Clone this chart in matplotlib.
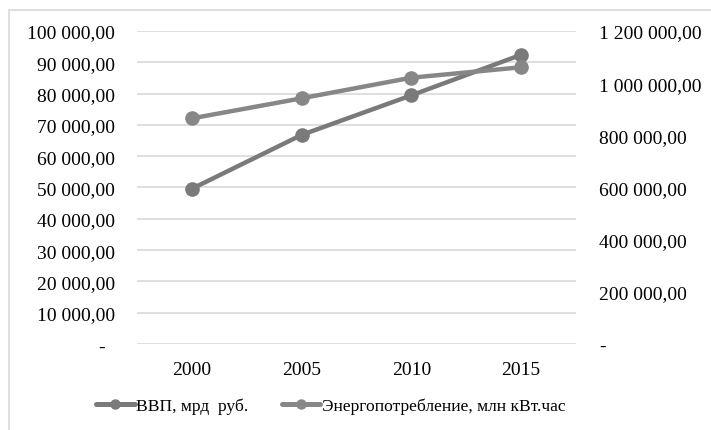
import matplotlib

matplotlib.use("Agg")
import matplotlib.pyplot as plt
from matplotlib.patches import Rectangle
from matplotlib.ticker import FuncFormatter, MultipleLocator

years = ["2000", "2005", "2010", "2015"]
gdp = [49600, 66800, 79450, 92400]              # ВВП, мрд руб. (left axis)
energy = [865000, 942000, 1021000, 1061000]     # Энергопотребление, млн кВт.час (right axis)

GDP_LABEL = "ВВП, мрд  руб."
ENERGY_LABEL = "Энергопотребление, млн кВт.час"

plt.rcParams["font.family"] = ["Liberation Serif", "DejaVu Serif"]
FS = 14
LEG_FS = 12.6


def fmt_left(v, _pos):
    # excel accounting format pads the dash on the left axis
    if abs(v) < 1e-9:
        return "-\u2002"
    return f"{v:,.2f}".replace(",", " ").replace(".", ",")


def fmt_right(v, _pos):
    if abs(v) < 1e-9:
        return "-"
    return f"{v:,.2f}".replace(",", " ").replace(".", ",")


fig = plt.figure(figsize=(7.11, 4.31), dpi=100)
fig.patches.append(Rectangle((9 / 711, -0.1), 1.2, 1 - 11 / 431 + 0.1, transform=fig.transFigure,
                             fill=False, edgecolor="#d9d9d9", linewidth=1.2))

ax = fig.add_axes([137 / 711, 1 - 345 / 431, (576 - 137) / 711, (345 - 32) / 431])
ax2 = ax.twinx()

x = list(range(len(years)))
ax.set_xlim(-0.5, len(years) - 0.5)
ax.set_ylim(0, 100000)
ax2.set_ylim(0, 1200000)
ax.yaxis.set_major_locator(MultipleLocator(10000))
ax2.yaxis.set_major_locator(MultipleLocator(200000))
ax.yaxis.set_major_formatter(FuncFormatter(fmt_left))
ax2.yaxis.set_major_formatter(FuncFormatter(fmt_right))
ax.set_xticks(x)
ax.set_xticklabels(years)

ax.grid(axis="y", color="#d9d9d9", linewidth=1.2)
ax.set_axisbelow(True)
for a in (ax, ax2):
    for sp in a.spines.values():
        sp.set_visible(False)
    a.tick_params(length=0, labelsize=FS, colors="black")
ax.tick_params(axis="y", pad=15.8)
ax.tick_params(axis="x", pad=12)
ax2.tick_params(axis="y", pad=16.5)

l1, = ax.plot(x, gdp, color="#7a7a7a", linewidth=3.2, marker="o", markersize=9.5,
              label=GDP_LABEL, solid_capstyle="round")
l2, = ax2.plot(x, energy, color="#878787", linewidth=3.2, marker="o", markersize=9.5,
               label=ENERGY_LABEL, solid_capstyle="round")

leg = fig.legend(handles=[l1, l2], loc="center", bbox_to_anchor=(331 / 711, 1 - 407 / 431), ncol=2,
                 frameon=False, fontsize=LEG_FS, handlelength=2.2, handletextpad=0.1,
                 columnspacing=1.9, borderaxespad=0)
for h in leg.legend_handles:
    h.set_markersize(6.5)
    h.set_linewidth(3.6)

fig.savefig("out.png", dpi=100)
